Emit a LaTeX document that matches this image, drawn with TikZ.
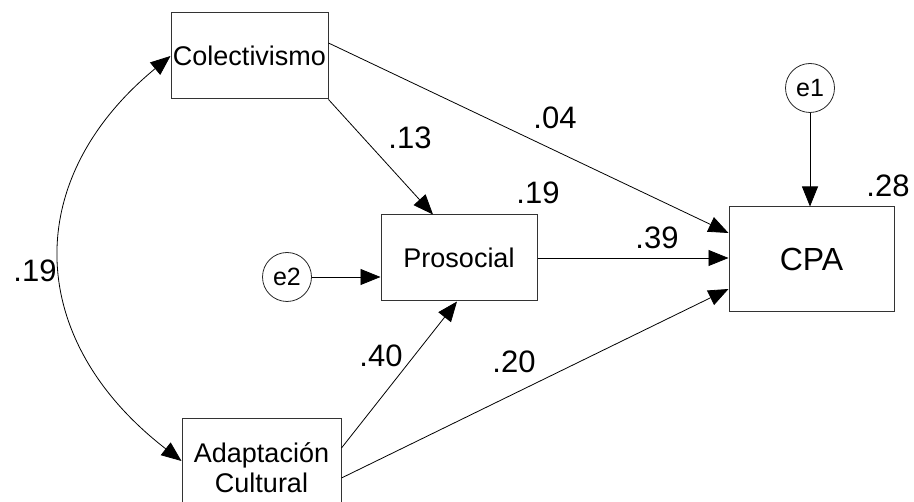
\documentclass[tikz,border=0pt]{standalone}
\usepackage{fontspec}
\setmainfont{Liberation Sans}
\usetikzlibrary{arrows.meta}

\begin{document}
\begin{tikzpicture}[x=1pt, y=-1pt, line width=0.8pt,
  varbox/.style={draw=black!80, line width=1pt, fill=white, align=center, inner sep=0pt, font=\fontsize{27}{30}\selectfont},
  errc/.style={draw=black!85, circle, minimum size=49pt, inner sep=0pt, font=\fontsize{25}{25}\selectfont},
  coef/.style={font=\fontsize{31}{31}\selectfont, inner sep=0pt},
  path/.style={-{Triangle[length=20pt,width=16pt]}, color=black}]
\useasboundingbox (0,0) rectangle (914,502);
% ---- the variables
\node[varbox, minimum width=157pt, minimum height=86pt] (colect) at (249.5,56) {Colectivismo};
\node[varbox, minimum width=156pt, minimum height=86pt] (proso) at (459,258) {Prosocial};
\node[varbox, minimum width=165pt, minimum height=105pt, font=\fontsize{32}{32}\selectfont] (cpa) at (811.5,259.5) {CPA};
\node[varbox, minimum width=159pt, minimum height=98pt] (adapt) at (261.5,468) {Adaptación\\ Cultural};
\node[errc] (e1) at (810,88) {e1};
\node[errc] (e2) at (287,277) {e2};
% ---- the paths
\draw[path] ([yshift=13pt]colect.east) -- ([yshift=26.5pt]cpa.west);
\draw[path] (colect.south east) -- ([xshift=-26pt]proso.north);
\draw[path] (e2) -- (e2 -| proso.west);
\draw[path] (proso.east) -- (proso.east -| cpa.west);
\draw[path] ([yshift=20pt]adapt.east) -- ([xshift=-2pt]proso.south);
\draw[path] ([yshift=-10pt]adapt.east) -- ([yshift=-29.5pt]cpa.west);
\draw[path] (e1) -- (e1 |- cpa.north);
\draw[{Triangle[length=20pt,width=16pt]}-{Triangle[length=20pt,width=16pt]}]
  (colect.west) .. controls (20,180) and (25,340) .. ([yshift=7pt]adapt.west);
% ---- the coefficients
\node[coef] (c04) at (555,118) {.04};
\node[coef] (c13) at (410,138) {.13};
\node[coef] (r19) at (538,193) {.19};
\node[coef] (r28) at (888,186) {.28};
\node[coef] (c39) at (657,238) {.39};
\node[coef] (k19) at (35,271) {.19};
\node[coef] (c40) at (381,356) {.40};
\node[coef] (c20) at (514,362) {.20};
\end{tikzpicture}
\end{document}
